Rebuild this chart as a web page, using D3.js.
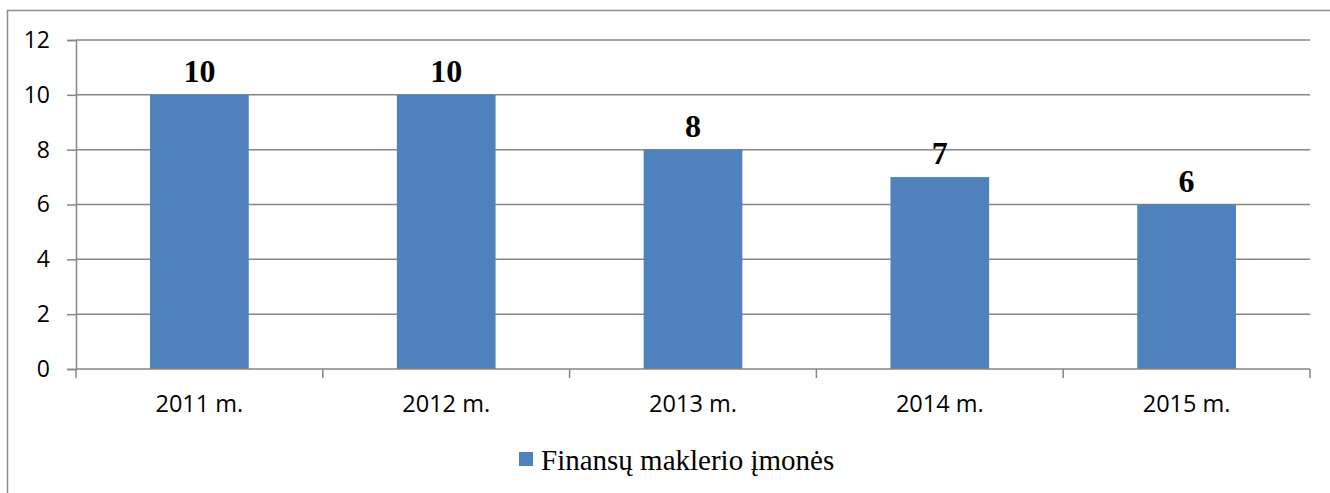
<!DOCTYPE html>
<html>
<head>
<meta charset="utf-8">
<script src="https://cdn.jsdelivr.net/npm/d3@7"></script>
<style>
  body { margin: 0; background: #fff; }
  svg { display: block; }
</style>
</head>
<body>
<div class="chart"></div>
<script>
// Data
var YEARS = ["2011 m.", "2012 m.", "2013 m.", "2014 m.", "2015 m."];
var FIRMS = [10, 10, 8, 7, 6];
var Y_TICKS = [0, 2, 4, 6, 8, 10, 12];
var SERIES_NAME = "Finansų maklerio įmonės";

var W = 1330, H = 493;
var margin = {left: 76, right: 20, top: 40, bottom: 124};
var width = 1310 - margin.left,
    height = 369 - margin.top;

var svg = d3.select(".chart").append("svg")
    .attr("width", W)
    .attr("height", H);

// outer frame (runs off the right and bottom edge)
svg.append("rect")
    .attr("x", 7.5).attr("y", 10.5)
    .attr("width", W + 20).attr("height", H + 20)
    .attr("fill", "none")
    .attr("stroke", "#8c8c8c")
    .attr("stroke-width", 1.5);

var g = svg.append("g")
    .attr("transform", "translate(" + margin.left + "," + margin.top + ")");

var x = d3.scaleBand()
    .domain(YEARS)
    .range([0, width])
    .paddingInner(0.6)
    .paddingOuter(0.3);

var y = d3.scaleLinear()
    .domain([0, 12])
    .range([height, 0]);

// gridlines
g.selectAll(".grid")
    .data(Y_TICKS.filter(function(d) { return d > 0; }))
    .enter().append("line")
    .attr("x1", 0).attr("x2", width)
    .attr("y1", function(d) { return y(d); })
    .attr("y2", function(d) { return y(d); })
    .attr("stroke", "#868686")
    .attr("stroke-width", 1.5);

// y axis
var yAxis = g.append("g")
    .call(d3.axisLeft(y).tickValues(Y_TICKS).tickSize(9).tickPadding(17).tickFormat(d3.format("d")));
yAxis.select(".domain").attr("stroke", "#868686").attr("stroke-width", 1.5);
yAxis.selectAll(".tick line").attr("stroke", "#868686").attr("stroke-width", 1.5);
yAxis.selectAll("text")
    .attr("font-family", "Open Sans, sans-serif")
    .attr("font-size", 23)
    .attr("fill", "#000");

// bars
g.selectAll(".bar")
    .data(FIRMS)
    .enter().append("rect")
    .attr("x", function(d, i) { return x(YEARS[i]); })
    .attr("y", function(d) { return y(d); })
    .attr("width", x.bandwidth())
    .attr("height", function(d) { return height - y(d); })
    .attr("fill", "#4f81bd");

// x axis line + category ticks
var step = width / YEARS.length;
g.append("line")
    .attr("x1", 0).attr("x2", width)
    .attr("y1", height).attr("y2", height)
    .attr("stroke", "#868686").attr("stroke-width", 1.5);
g.selectAll(".xtick")
    .data(d3.range(YEARS.length + 1))
    .enter().append("line")
    .attr("x1", function(i) { return i * step; })
    .attr("x2", function(i) { return i * step; })
    .attr("y1", height).attr("y2", height + 9)
    .attr("stroke", "#868686").attr("stroke-width", 1.5);

g.selectAll(".xlabel")
    .data(YEARS)
    .enter().append("text")
    .attr("x", function(d) { return x(d) + x.bandwidth() / 2; })
    .attr("y", height + 43)
    .attr("text-anchor", "middle")
    .attr("font-family", "Open Sans, sans-serif")
    .attr("font-size", 23.5)
    .attr("fill", "#000")
    .text(function(d) { return d; });

// value labels
g.selectAll(".val")
    .data(FIRMS)
    .enter().append("text")
    .attr("x", function(d, i) { return x(YEARS[i]) + x.bandwidth() / 2; })
    .attr("y", function(d) { return y(d) - 13; })
    .attr("text-anchor", "middle")
    .attr("font-family", "Liberation Serif, Times New Roman, serif")
    .attr("font-weight", "bold")
    .attr("font-size", 32)
    .attr("fill", "#000")
    .text(function(d) { return d; });

// legend
var legend = svg.append("g").attr("transform", "translate(519,452)");
legend.append("rect")
    .attr("width", 14).attr("height", 14)
    .attr("fill", "#4f81bd");
legend.append("text")
    .attr("x", 22).attr("y", 18)
    .attr("font-family", "Liberation Serif, Times New Roman, serif")
    .attr("font-size", 29)
    .attr("fill", "#000")
    .text(SERIES_NAME);
</script>
</body>
</html>
